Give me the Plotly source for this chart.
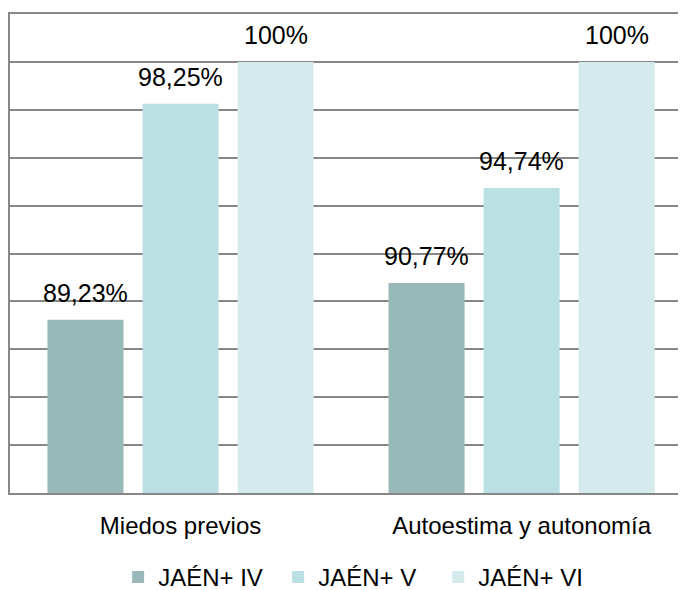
import plotly.graph_objects as go

categories = ["Miedos previos", "Autoestima y autonomía"]
series_names = ["JAÉN+ IV", "JAÉN+ V", "JAÉN+ VI"]
jaen_iv = [89.23, 90.77]
jaen_v = [98.25, 94.74]
jaen_vi = [100, 100]

colors = ["#99b8b9", "#bae0e3", "#d5eaed"]
font_family = "Liberation Sans, Arial, sans-serif"

# the page body keeps its default 8px margin, so the figure is a bit smaller
# than the 686x590 window and sits 8px in from the top-left corner
W, H = 678, 582
margin = dict(l=2, r=0, t=6, b=97, autoexpand=False)
x_range = [-0.5, 1.482]
bargap = 0.164


def fmt(v):
    # Spanish style decimal comma, no decimals for whole numbers
    if float(v).is_integer():
        return f"{int(v)}%"
    return f"{v:.2f}%".replace(".", ",")


fig = go.Figure()
all_series = [jaen_iv, jaen_v, jaen_vi]
for name, values, color in zip(series_names, all_series, colors):
    fig.add_trace(go.Bar(
        x=categories,
        y=values,
        name=name,
        marker=dict(color=color, line=dict(width=0)),
        hoverinfo="x+y+name",
    ))

# value labels sit a bit higher above the bars than plotly's outside text,
# so place them as annotations shifted onto each bar of the group
cat_px = (W - margin["l"] - margin["r"]) / (x_range[1] - x_range[0])
slot_px = cat_px * (1 - bargap) / len(all_series)
for i, values in enumerate(all_series):
    for cat, v in zip(categories, values):
        fig.add_annotation(
            x=cat, y=v, xref="x", yref="y",
            text=fmt(v),
            showarrow=False,
            xanchor="center", yanchor="bottom",
            xshift=(i - (len(all_series) - 1) / 2) * slot_px,
            yshift=11,
            font=dict(size=25, color="#000000", family=font_family),
        )

fig.update_layout(
    width=W,
    height=H,
    margin=margin,
    paper_bgcolor="white",
    plot_bgcolor="white",
    barmode="group",
    bargap=bargap,
    bargroupgap=0.2,
    font=dict(family=font_family, size=24, color="#000000"),
    showlegend=True,
    legend=dict(
        orientation="h",
        x=0.515,
        xanchor="center",
        y=-0.176,
        yanchor="middle",
        font=dict(size=24),
        itemwidth=30,
        entrywidth=115,
    ),
    xaxis=dict(
        range=x_range,
        showline=True,
        mirror=True,
        linecolor="#878787",
        linewidth=2,
        ticks="",
        showgrid=False,
        tickfont=dict(size=24),
        ticklabelstandoff=10,
    ),
    yaxis=dict(
        range=[82, 102],
        dtick=2,
        showticklabels=False,
        showgrid=True,
        gridcolor="#878787",
        gridwidth=1.5,
        showline=True,
        linecolor="#878787",
        linewidth=2,
        zeroline=False,
        ticks="",
    ),
)

fig.write_html("out.html")
